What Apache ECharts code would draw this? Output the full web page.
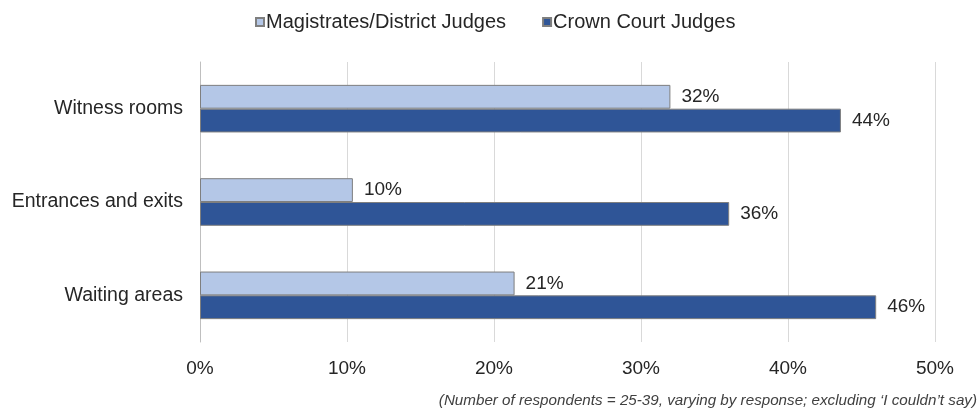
<!DOCTYPE html>
<html><head><meta charset="utf-8">
<script src="https://cdn.jsdelivr.net/npm/echarts@6/dist/echarts.min.js"></script>
<style>html,body{margin:0;padding:0;background:#fff}#c{width:978px;height:409px}</style>
</head><body><div id="c"></div>
<script>
const categories = ['Witness rooms', 'Entrances and exits', 'Waiting areas'];
const magistrates = [32, 10.4, 21.4];
const crown = [43.6, 36, 46];
const xTicks = [0, 10, 20, 30, 40, 50];
const seriesNames = ['Magistrates/District Judges', 'Crown Court Judges'];
const footnote = '(Number of respondents = 25-39, varying by response; excluding \u2018I couldn\u2019t say)';

const chart = echarts.init(document.getElementById('c'));
const font = 'Liberation Sans, Arial, sans-serif';
const lbl = {show: true, position: 'right', distance: 11, fontSize: 19, color: '#262626', fontFamily: font,
  formatter: p => Math.round(p.value) + '%'};
chart.setOption({
  animation: false,
  textStyle: {fontFamily: font},
  legend: {top: 7, left: 250, itemWidth: 8, itemHeight: 8, itemGap: 36, icon: 'rect',
    textStyle: {fontSize: 20, color: '#262626', fontFamily: font, padding: [0, 0, 0, -3]},
    data: seriesNames},
  grid: {left: 200, right: 43, top: 62, bottom: 67},
  xAxis: {type: 'value', min: 0, max: 50, interval: 10,
    axisLine: {show: false}, axisTick: {show: false},
    splitLine: {lineStyle: {color: '#d9d9d9', width: 1}},
    axisLabel: {fontSize: 19, color: '#262626', margin: 17, fontFamily: font,
      formatter: v => xTicks.includes(v) ? v + '%' : ''}},
  yAxis: {type: 'category', data: categories, inverse: true,
    axisLine: {show: true, lineStyle: {color: '#bfbfbf'}}, axisTick: {show: false},
    axisLabel: {fontSize: 19.5, color: '#262626', margin: 17, fontFamily: font}},
  graphic: [{type: 'text', right: 1, bottom: 1,
    style: {text: footnote, fontSize: 15.2, fontStyle: 'italic', fill: '#404040', fontFamily: font}}],
  series: [
    {name: seriesNames[0], type: 'bar', data: magistrates, barGap: '0%', barCategoryGap: '49%',
      itemStyle: {color: '#b4c7e7', borderColor: '#7f7f7f', borderWidth: 1}, label: lbl},
    {name: seriesNames[1], type: 'bar', data: crown, barGap: '0%', barCategoryGap: '49%',
      itemStyle: {color: '#2f5597', borderColor: '#7f7f7f', borderWidth: 1}, label: lbl}
  ]
});
</script></body></html>
